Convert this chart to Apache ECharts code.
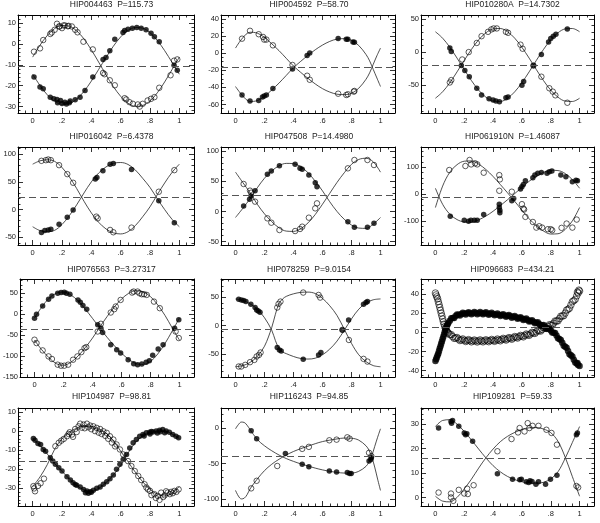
<!DOCTYPE html>
<html>
<head>
<meta charset="utf-8">
<script src="https://cdn.jsdelivr.net/npm/echarts@6/dist/echarts.min.js"></script>
<style>
  html, body { margin: 0; padding: 0; background: #fff; }
  #chart { width: 600px; height: 523px; }
</style>
</head>
<body>
<div id="chart"></div>
<script>
  // panel titles and value axes
  const titles = ['HIP004463  P=115.73', 'HIP004592  P=58.70', 'HIP010280A  P=14.7302',
    'HIP016042  P=6.4378', 'HIP047508  P=14.4980', 'HIP061910N  P=1.46087',
    'HIP076563  P=3.27317', 'HIP078259  P=9.0154', 'HIP096683  P=434.21',
    'HIP104987  P=98.81', 'HIP116243  P=94.85', 'HIP109281  P=59.33'];
  const yMin = [-33.1, -70, -92, -64, -55.5, -190, -150, -90, -46.6, -39.2, -110, -3.5];
  const yMax = [13.9, 44.7, 56, 113, 106.6, 176, 84, 82, 55.6, 12.1, 28.4, 36.6];
  const yStep = [10, 20, 50, 50, 50, 100, 50, 50, 20, 10, 50, 10];
  const yMinorDiv = [5, 4, 5, 5, 5, 5, 5, 5, 4, 5, 5, 5];
  const gamma = [-10.5, -16, -19.5, 23, 26, -10, -35, -6, 5, -16, -40, 16.2];
  const xTickLabels = [0, 0.2, 0.4, 0.6, 0.8, 1];

  // HIP004463
  const p1Filled = [[0.009,-15.8],[0.05,-20.6],[0.072,-21.5],[0.12,-25.5],[0.144,-26.3],[0.166,-26.6],[0.17,-28.2],[0.19,-27.1],[0.2,-28.5],[0.22,-27.9],[0.23,-28.8],[0.25,-28.2],[0.256,-27.4],[0.29,-26.8],[0.323,-25.5],[0.357,-22.3],[0.41,-15.8],[0.48,-7.4],[0.5,-6.5],[0.526,-3.2],[0.56,2.3],[0.616,5.5],[0.627,6.5],[0.65,7.1],[0.68,7.6],[0.71,7.9],[0.74,7.6],[0.773,6.8],[0.807,5.2],[0.83,3.5],[0.863,1.1],[0.964,-10.2],[0.986,-12.6]];
  const p1Open = [[0.009,-3.7],[0.05,-2.1],[0.072,1.9],[0.12,4.8],[0.13,5.5],[0.15,6.8],[0.166,9.7],[0.18,8.4],[0.184,8.4],[0.2,7.6],[0.21,8.9],[0.22,8.9],[0.24,8.5],[0.245,8.7],[0.267,8.4],[0.29,6.8],[0.306,5.6],[0.346,1.1],[0.41,-2.6],[0.48,-13.9],[0.49,-14.5],[0.526,-17.4],[0.56,-19.8],[0.627,-26],[0.638,-26.6],[0.66,-27.9],[0.683,-28.7],[0.717,-29],[0.73,-30],[0.75,-28.7],[0.784,-27.1],[0.807,-26.3],[0.83,-25.5],[0.863,-21],[0.94,-15],[0.964,-8],[0.986,-7.4]];
  const p1CurveA = [[0,-14.5],[0.05,-19.9],[0.1,-24.4],[0.15,-27.5],[0.2,-28.9],[0.25,-28.6],[0.3,-26.4],[0.35,-22.7],[0.4,-17.8],[0.45,-12.2],[0.5,-6.5],[0.55,-1.1],[0.6,3.4],[0.65,6.5],[0.7,7.9],[0.75,7.6],[0.8,5.4],[0.85,1.7],[0.9,-3.2],[0.95,-8.8],[1,-14.5]];
  const p1CurveB = [[0,-6.3],[0.05,-0.6],[0.1,4.1],[0.15,7.4],[0.2,8.9],[0.25,8.5],[0.3,6.3],[0.35,2.4],[0.4,-2.8],[0.45,-8.7],[0.5,-14.8],[0.55,-20.4],[0.6,-25.1],[0.65,-28.4],[0.7,-29.9],[0.75,-29.5],[0.8,-27.3],[0.85,-23.4],[0.9,-18.2],[0.95,-12.3],[1,-6.3]];

  // HIP004592
  const p2Filled = [[0.045,-48.9],[0.1,-56],[0.16,-55.3],[0.186,-51.3],[0.198,-50.1],[0.213,-48.9],[0.258,-41.4],[0.393,-18.5],[0.494,-2.7],[0.512,0.1],[0.708,17.1],[0.764,16.3],[0.775,16.3],[0.81,13.1],[0.82,12.7]];
  const p2Open = [[0.045,17],[0.1,26.2],[0.16,22.2],[0.19,19],[0.198,15.9],[0.213,15.9],[0.258,9.2],[0.393,-13.8],[0.494,-26.4],[0.512,-31.1],[0.708,-47.4],[0.764,-48.9],[0.775,-48.1],[0.816,-45],[0.82,-44.2]];
  const p2CurveA = [[0,-39],[0.05,-50],[0.1,-56.5],[0.15,-55.5],[0.2,-50.5],[0.25,-43],[0.3,-35],[0.35,-26],[0.4,-17],[0.45,-9.5],[0.5,-2.5],[0.55,4],[0.6,9.5],[0.65,13.8],[0.7,16.5],[0.75,17],[0.8,15],[0.85,9],[0.9,-1.5],[0.925,-9],[0.95,-19],[0.975,-29],[1,-39]];
  const p2CurveB = [[0,6],[0.05,18],[0.1,24.5],[0.15,23.5],[0.2,18.5],[0.25,11],[0.3,3],[0.35,-6],[0.4,-15],[0.45,-22.5],[0.5,-29.5],[0.55,-36],[0.6,-41.5],[0.65,-45.5],[0.7,-48],[0.75,-48.5],[0.8,-47],[0.85,-41],[0.9,-30.5],[0.925,-23],[0.95,-13],[0.975,-3],[1,6]];

  // HIP010280A
  const p3Filled = [[0.1,6.1],[0.11,1],[0.18,-20.4],[0.204,-28],[0.235,-37.2],[0.287,-54.6],[0.32,-64.8],[0.372,-70.4],[0.4,-72.4],[0.42,-74],[0.444,-75],[0.489,-68.9],[0.504,-67.9],[0.6,-50],[0.612,-44.4],[0.68,-20.4],[0.735,-3.6],[0.785,15.3],[0.8,20.4],[0.818,24],[0.836,27],[0.915,34.7]];
  const p3Open = [[0.1,-45.9],[0.11,-42.3],[0.186,-11.2],[0.231,0],[0.287,13.8],[0.32,24],[0.365,30.6],[0.388,34.2],[0.404,35.7],[0.426,35.7],[0.489,30.6],[0.504,29.1],[0.59,11.2],[0.605,5.1],[0.68,-20.4],[0.735,-37.2],[0.79,-54.6],[0.814,-59.7],[0.832,-65.3],[0.915,-76.5]];
  const p3CurveA = [[0,30.7],[0.05,21],[0.1,7.3],[0.15,-9.1],[0.2,-26.4],[0.25,-43.1],[0.3,-57.5],[0.35,-68.1],[0.4,-74],[0.45,-74.6],[0.5,-69.7],[0.55,-60],[0.6,-46.2],[0.65,-29.9],[0.7,-12.6],[0.75,4.1],[0.8,18.5],[0.85,29.1],[0.9,35],[0.95,35.6],[1,30.7]];
  const p3CurveB = [[0,-69.7],[0.05,-60],[0.1,-46.3],[0.15,-29.9],[0.2,-12.6],[0.25,4.1],[0.3,18.5],[0.35,29.1],[0.4,35],[0.45,35.6],[0.5,30.7],[0.55,21],[0.6,7.2],[0.65,-9.1],[0.7,-26.4],[0.75,-43.1],[0.8,-57.5],[0.85,-68.1],[0.9,-74],[0.95,-74.6],[1,-69.7]];

  // HIP016042
  const p4Filled = [[0.06,-41.6],[0.083,-38],[0.106,-36.8],[0.124,-35.6],[0.18,-26.6],[0.236,-14],[0.276,-0.8],[0.427,55],[0.438,58],[0.479,70],[0.528,82],[0.55,83.2],[0.674,72.4],[0.86,16],[0.966,-23.6]];
  const p4Open = [[0.06,88],[0.09,89.2],[0.106,90.4],[0.124,89.2],[0.18,80.2],[0.236,64],[0.276,48.4],[0.434,-12.8],[0.443,-15.8],[0.528,-36.8],[0.55,-41],[0.674,-32.6],[0.86,32.2],[0.966,71.2]];
  const p4CurveA = [[0,-31],[0.05,-38],[0.1,-40],[0.15,-37.5],[0.2,-27],[0.25,-11],[0.3,8.5],[0.35,30],[0.4,50],[0.45,66],[0.5,77],[0.55,83.5],[0.6,85],[0.65,81.5],[0.7,71.5],[0.75,56.5],[0.8,40],[0.85,19.5],[0.9,0],[0.95,-17.5],[1,-31]];
  const p4CurveB = [[0,82],[0.05,88],[0.1,90],[0.15,87],[0.2,76],[0.25,59],[0.3,38],[0.35,15],[0.4,-6],[0.45,-23],[0.5,-35],[0.55,-42],[0.6,-44],[0.65,-40],[0.7,-29],[0.75,-13],[0.8,5],[0.85,27],[0.9,48],[0.95,67],[1,82]];

  // HIP047508
  const p5Filled = [[0.056,9],[0.097,20],[0.108,25.5],[0.135,34.4],[0.22,61.4],[0.247,66.9],[0.303,75.7],[0.411,77.9],[0.445,71.3],[0.46,69.7],[0.506,60.3],[0.55,47.6],[0.562,41],[0.775,-16.9],[0.82,-26.3],[0.91,-26.3],[0.955,-19.7]];
  const p5Open = [[0.056,45.4],[0.1,34.4],[0.108,31],[0.135,16.2],[0.22,-11.4],[0.247,-18.6],[0.303,-30.7],[0.411,-32.4],[0.445,-29],[0.46,-25.2],[0.506,-10.3],[0.55,5.1],[0.562,13.4],[0.775,71.3],[0.82,85.1],[0.91,85.1],[0.955,76.8]];
  const p5CurveA = [[0,-10],[0.05,5],[0.1,21],[0.15,39],[0.2,55],[0.25,67],[0.3,75.5],[0.35,79.5],[0.4,79],[0.45,74],[0.5,64],[0.55,50],[0.6,34],[0.65,16],[0.7,0],[0.75,-13],[0.8,-22.5],[0.85,-27.5],[0.9,-28],[0.95,-21],[1,-10]];
  const p5CurveB = [[0,65],[0.05,48],[0.1,31],[0.15,12],[0.2,-4],[0.25,-17],[0.3,-27],[0.35,-32.5],[0.4,-33],[0.45,-28.5],[0.5,-19],[0.55,-5],[0.6,12],[0.65,30],[0.7,48],[0.75,64],[0.8,78],[0.85,86],[0.9,88],[0.95,82],[1,65]];

  // HIP061910N
  const p6Filled = [[0.103,-82.5],[0.2,-97.5],[0.23,-101],[0.246,-97.5],[0.27,-97.5],[0.29,-97.5],[0.335,-76],[0.443,-37.5],[0.447,-60],[0.447,-70],[0.443,-50],[0.53,-25],[0.543,-16],[0.59,19],[0.6,27.5],[0.61,36],[0.624,50],[0.676,61],[0.69,71],[0.71,77.5],[0.735,81],[0.774,77.5],[0.79,84],[0.808,86],[0.87,71],[0.905,65],[0.95,46],[0.975,52],[0.985,50]];
  const p6Open = [[0.096,90],[0.208,105],[0.237,127.5],[0.248,111],[0.275,115],[0.29,111],[0.335,80],[0.443,71],[0.447,55],[0.443,12.5],[0.53,9],[0.6,-37.5],[0.61,-54],[0.615,-57.5],[0.624,-85],[0.676,-104],[0.7,-125],[0.72,-120],[0.74,-125],[0.78,-131],[0.8,-131],[0.81,-135],[0.875,-126],[0.91,-110],[0.95,-125],[0.98,-95]];
  const p6CurveA = [[0,22],[0.05,-38],[0.1,-75],[0.15,-95],[0.2,-104],[0.25,-105],[0.3,-96],[0.35,-82],[0.4,-64],[0.45,-43],[0.5,-21],[0.55,2],[0.6,25],[0.65,48],[0.7,66],[0.75,81],[0.8,89],[0.85,88],[0.9,77],[0.95,54],[1,22]];
  const p6CurveB = [[0,-50],[0.05,30],[0.1,82],[0.15,110],[0.2,123],[0.25,124],[0.3,112],[0.35,92],[0.4,66],[0.45,36],[0.5,5],[0.55,-27],[0.6,-60],[0.65,-92],[0.7,-118],[0.75,-138],[0.8,-149],[0.85,-148],[0.9,-132],[0.95,-100],[1,-50]];

  // HIP076563
  const p7Filled = [[0,-9.5],[0.014,0],[0.056,19.8],[0.097,35.7],[0.12,43.7],[0.16,50],[0.183,51.6],[0.205,52.4],[0.22,50],[0.244,47.6],[0.3,34],[0.316,28.6],[0.334,20.6],[0.36,11.9],[0.436,-25.4],[0.458,-33.3],[0.47,-43.7],[0.526,-73],[0.567,-85],[0.594,-92.9],[0.646,-108.7],[0.684,-118.3],[0.711,-120.6],[0.74,-119],[0.77,-115],[0.792,-111],[0.815,-98],[0.853,-83],[0.887,-73],[0.966,-33.3],[0.995,-13.5]];
  const p7Open = [[0,-61],[0.014,-69],[0.056,-86.5],[0.097,-100.8],[0.12,-107],[0.16,-120.6],[0.183,-123],[0.205,-123],[0.232,-120.6],[0.266,-108.7],[0.296,-100.8],[0.323,-90.5],[0.345,-81],[0.357,-78.6],[0.436,-41.3],[0.458,-23],[0.526,4],[0.55,11.9],[0.56,18.3],[0.594,34],[0.673,51.6],[0.684,54],[0.711,54],[0.724,50],[0.74,47.6],[0.756,47.6],[0.774,46],[0.824,30],[0.864,14.3],[0.973,-41.3],[0.995,-57]];
  const p7CurveA = [[0,-9],[0.05,17],[0.1,38],[0.15,50],[0.2,53],[0.25,46],[0.3,32],[0.35,12],[0.4,-10],[0.45,-33],[0.5,-55],[0.55,-75],[0.6,-93],[0.65,-108],[0.7,-118],[0.75,-120],[0.8,-113],[0.85,-95],[0.9,-70],[0.95,-40],[1,-9]];
  const p7CurveB = [[0,-62],[0.05,-85],[0.1,-104],[0.15,-118],[0.2,-122],[0.25,-115],[0.3,-100],[0.35,-80],[0.4,-57],[0.45,-31],[0.5,-6],[0.55,17],[0.6,36],[0.65,50],[0.7,56],[0.75,53],[0.8,42],[0.85,22],[0.9,-3],[0.95,-33],[1,-62]];

  // HIP078259
  const p8Filled = [[0.022,46.5],[0.04,45.3],[0.056,44.2],[0.072,42.4],[0.106,37.7],[0.135,31.9],[0.146,27.8],[0.157,26],[0.169,23.7],[0.288,-38.3],[0.303,-42.4],[0.315,-44.2],[0.467,-58.8],[0.573,-51.2],[0.589,-47.1],[0.737,-7.3],[0.78,10.2],[0.883,37.7],[0.9,40.6],[0.91,42.4]];
  const p8Open = [[0.022,-71.6],[0.04,-71.6],[0.067,-68.7],[0.1,-64],[0.13,-60],[0.146,-54],[0.162,-51.2],[0.173,-47],[0.288,31.9],[0.297,38.3],[0.31,42.4],[0.467,58.2],[0.573,54],[0.584,49.4],[0.737,-7.3],[0.782,-25],[0.883,-58.2],[0.91,-62.9]];
  const p8CurveA = [[0,47],[0.05,44.5],[0.1,38.5],[0.15,29],[0.2,14],[0.25,-8],[0.275,-26],[0.3,-40],[0.325,-46],[0.35,-49],[0.4,-54],[0.45,-57.5],[0.5,-58.5],[0.55,-57],[0.6,-51],[0.65,-41],[0.7,-27],[0.75,-8],[0.8,12],[0.85,29],[0.9,40],[0.95,45.5],[1,47]];
  const p8CurveB = [[0,-72],[0.05,-70],[0.1,-64.5],[0.15,-54],[0.2,-36],[0.25,-3],[0.275,20],[0.3,39],[0.325,47],[0.35,51.5],[0.4,56],[0.45,58.5],[0.5,59],[0.55,56.5],[0.6,48],[0.65,35],[0.7,18],[0.75,-6],[0.8,-31],[0.85,-51],[0.9,-63],[0.95,-70],[1,-72]];

  // HIP096683 (dense bands, no visible fit): band centre and band edge readings
  const p9Filled = [[0,-30],[0.01,-26],[0.02,-22],[0.03,-17],[0.04,-12],[0.05,-7],[0.06,-2],[0.07,3],[0.08,7],[0.09,10],[0.1,12],[0.12,15],[0.14,17],[0.16,18.2],[0.18,19],[0.2,19.5],[0.22,19.8],[0.24,20],[0.26,20],[0.28,20.1],[0.3,20],[0.32,20],[0.34,19.8],[0.36,19.6],[0.38,19.3],[0.4,19],[0.42,18.7],[0.44,18.4],[0.46,18],[0.48,17.6],[0.5,17.2],[0.52,16.7],[0.54,16.2],[0.56,15.6],[0.58,15],[0.6,14.3],[0.62,13.6],[0.64,12.8],[0.66,11.9],[0.68,11],[0.7,10],[0.72,8.8],[0.74,7.4],[0.76,5.8],[0.78,4],[0.8,2],[0.82,-0.5],[0.84,-3.3],[0.86,-7],[0.88,-11],[0.9,-15],[0.92,-19.5],[0.94,-24],[0.96,-28.5],[0.98,-32.5],[0.99,-34],[1,-35]];
  const p9FilledEdge = [[0.005,-28],[0.015,-24],[0.025,-19.5],[0.035,-14.5],[0.045,-9.5],[0.055,-4.5],[0.065,0.5],[0.075,5],[0.085,8.5],[0.11,14.6],[0.13,14.9],[0.15,18.7],[0.17,17.5],[0.19,20.4],[0.21,18.5],[0.23,21],[0.25,18.9],[0.27,21.2],[0.29,18.9],[0.31,21.1],[0.33,18.8],[0.35,20.8],[0.37,18.3],[0.39,20.3],[0.41,17.7],[0.43,19.7],[0.45,17.1],[0.47,18.9],[0.49,16.3],[0.51,18.1],[0.53,15.3],[0.55,17],[0.57,14.2],[0.59,15.8],[0.61,12.8],[0.63,14.3],[0.65,11.2],[0.67,12.6],[0.69,9.4],[0.71,10.5],[0.73,7],[0.75,7.7],[0.77,3.8],[0.79,4.1],[0.81,-0.3],[0.83,-0.8],[0.85,-6.2],[0.87,-7.9],[0.89,-14.1],[0.91,-16.2],[0.93,-22.8],[0.95,-25.2],[0.97,-31.5],[0.985,-32]];
  const p9Open = [[0,41],[0.01,37],[0.02,32],[0.03,26],[0.04,20],[0.05,14],[0.06,8.5],[0.07,4],[0.08,1],[0.09,-1],[0.1,-2.5],[0.12,-4.5],[0.14,-6],[0.16,-7],[0.18,-7.8],[0.2,-8.3],[0.22,-8.6],[0.24,-8.8],[0.26,-9],[0.28,-9],[0.3,-9],[0.32,-9],[0.34,-8.9],[0.36,-8.8],[0.38,-8.6],[0.4,-8.4],[0.42,-8.2],[0.44,-8],[0.46,-7.6],[0.48,-7.2],[0.5,-6.8],[0.52,-6.3],[0.54,-5.8],[0.56,-5.2],[0.58,-4.6],[0.6,-4],[0.62,-3.3],[0.64,-2.5],[0.66,-1.6],[0.68,-0.6],[0.7,0.5],[0.72,1.7],[0.74,3],[0.76,4.5],[0.78,6],[0.8,7.6],[0.82,9.5],[0.84,11.8],[0.86,14.3],[0.88,17],[0.9,20],[0.92,24],[0.94,28.5],[0.96,33],[0.98,38],[0.99,41],[1,43]];
  const p9OpenEdge = [[0.005,39],[0.015,35],[0.025,29],[0.035,23],[0.045,17],[0.055,11],[0.065,6],[0.075,2.5],[0.085,0],[0.11,-2.4],[0.13,-6.3],[0.15,-5.4],[0.17,-8.6],[0.19,-6.9],[0.21,-9.6],[0.23,-7.6],[0.25,-10],[0.27,-8],[0.29,-10.1],[0.31,-7.9],[0.33,-10],[0.35,-7.8],[0.37,-9.8],[0.39,-7.4],[0.41,-9.4],[0.43,-7],[0.45,-8.9],[0.47,-6.3],[0.49,-8.1],[0.51,-5.5],[0.53,-7.2],[0.55,-4.4],[0.57,-6],[0.59,-3.2],[0.61,-4.8],[0.63,-1.8],[0.65,-3.2],[0.67,0],[0.69,-1.2],[0.71,2.2],[0.73,1.3],[0.75,4.8],[0.77,4.1],[0.79,7.9],[0.81,7.4],[0.83,11.8],[0.85,11.9],[0.87,16.8],[0.89,17.3],[0.91,23.1],[0.93,25.1],[0.95,32],[0.97,34.4],[0.985,42],[0.995,44]];
  const p9CurveA = [];
  const p9CurveB = [];

  // HIP104987
  const p10Filled = [[0.005,-3.9],[0.016,-4.8],[0.036,-6.5],[0.054,-7],[0.072,-9.6],[0.088,-10.5],[0.12,-14],[0.137,-15.7],[0.155,-17.4],[0.178,-19.2],[0.2,-20.9],[0.234,-23.9],[0.257,-25.6],[0.275,-27],[0.29,-28],[0.3,-28.4],[0.324,-29.2],[0.347,-30.5],[0.36,-32.2],[0.37,-31.3],[0.38,-32.5],[0.392,-31.7],[0.4,-32],[0.414,-31],[0.437,-29.9],[0.46,-29.2],[0.482,-27.8],[0.505,-26.5],[0.527,-24.9],[0.55,-23],[0.572,-20],[0.595,-17.4],[0.617,-14.8],[0.64,-12.2],[0.662,-8.8],[0.685,-6.1],[0.707,-4.4],[0.73,-2.7],[0.752,-1.8],[0.76,-2.5],[0.775,-0.9],[0.797,-0.6],[0.8,-1.5],[0.81,-0.2],[0.82,-0.4],[0.842,0.1],[0.85,-1],[0.865,0.5],[0.87,-0.3],[0.887,0.8],[0.9,-0.8],[0.91,0],[0.932,-0.6],[0.955,-1.8],[0.977,-2.7],[0.995,-3.5]];
  const p10Open = [[0.005,-28.8],[0.01,-30],[0.016,-31.5],[0.036,-28.7],[0.054,-27.3],[0.077,-24.9],[0.155,-7.9],[0.178,-6.1],[0.195,-5],[0.212,-4.1],[0.234,-2.7],[0.245,-1.5],[0.252,-0.6],[0.268,-1.8],[0.275,-3],[0.29,1.1],[0.3,-0.5],[0.313,2.5],[0.324,3.9],[0.335,1.8],[0.347,3.4],[0.355,1.5],[0.37,3.9],[0.38,2],[0.392,2.9],[0.4,1],[0.414,2.5],[0.425,0],[0.437,1.7],[0.45,-0.8],[0.46,1.1],[0.47,-1.5],[0.482,-0.1],[0.495,-2.5],[0.505,-0.9],[0.515,-4],[0.527,-2.7],[0.54,-6],[0.55,-4.4],[0.562,-8],[0.572,-7],[0.595,-9.6],[0.617,-12.2],[0.65,-15.7],[0.673,-18.3],[0.696,-20.9],[0.72,-23.5],[0.74,-25.6],[0.763,-27.8],[0.775,-29.5],[0.786,-30.5],[0.8,-31.3],[0.81,-33.5],[0.83,-33],[0.84,-35],[0.853,-33.9],[0.865,-36],[0.876,-32.2],[0.89,-34.5],[0.9,-33.6],[0.91,-31.5],[0.92,-32.2],[0.935,-33],[0.944,-31.8],[0.955,-32.5],[0.966,-31.3],[0.98,-31.8],[0.995,-30.5]];
  const p10CurveA = [[0,-4],[0.05,-7.5],[0.1,-12],[0.15,-17],[0.2,-21],[0.25,-25],[0.3,-28.5],[0.35,-30.8],[0.4,-31.5],[0.45,-30],[0.5,-27],[0.55,-23],[0.6,-18],[0.65,-11.5],[0.7,-6],[0.75,-2.5],[0.8,-0.8],[0.85,0],[0.9,0],[0.95,-1.5],[1,-4]];
  const p10CurveB = [[0,-29],[0.05,-24],[0.1,-17.5],[0.15,-9.5],[0.2,-4],[0.25,-0.5],[0.3,1.5],[0.35,2.5],[0.4,2.5],[0.45,1.3],[0.5,-1],[0.55,-5],[0.6,-10.5],[0.65,-16],[0.7,-21.5],[0.75,-26.5],[0.8,-30.5],[0.85,-33],[0.9,-34],[0.95,-32.5],[1,-29]];

  // HIP116243
  const p11Filled = [[0.108,-3.7],[0.146,-14.9],[0.344,-35.8],[0.46,-51.2],[0.506,-54.4],[0.647,-60.5],[0.697,-61.9],[0.771,-62.8],[0.787,-64.2],[0.798,-64.2],[0.921,-46.5],[0.933,-44.2],[0.937,-41.9]];
  const p11Open = [[0.108,-85.1],[0.146,-74.4],[0.288,-53.5],[0.46,-29.3],[0.506,-26.5],[0.647,-17.2],[0.697,-16.3],[0.771,-13],[0.787,-14.9],[0.921,-34.9],[0.937,-39.5]];
  const p11CurveA = [[0,-1],[0.02,5],[0.04,8.5],[0.06,8],[0.08,4],[0.1,-2],[0.15,-16],[0.2,-25],[0.25,-32],[0.3,-38],[0.35,-43],[0.4,-47],[0.45,-50.5],[0.5,-53.5],[0.55,-56.5],[0.6,-59],[0.65,-61],[0.7,-62.5],[0.75,-63.5],[0.8,-63.5],[0.85,-61],[0.9,-54],[0.92,-48],[0.94,-39],[0.96,-26],[0.98,-13],[1,-1]];
  const p11CurveB = [[0,-88],[0.02,-96],[0.04,-100],[0.06,-99],[0.08,-94],[0.1,-86],[0.15,-72],[0.2,-60],[0.25,-51],[0.3,-44],[0.35,-38],[0.4,-33],[0.45,-29],[0.5,-25.5],[0.55,-22],[0.6,-19],[0.65,-17],[0.7,-15.3],[0.75,-14],[0.8,-14.3],[0.85,-17],[0.9,-25],[0.92,-31],[0.94,-41],[0.96,-55],[0.98,-72],[1,-88]];

  // HIP109281
  const p12Filled = [[0.022,28.4],[0.108,31.1],[0.112,30.4],[0.119,31.5],[0.162,29.1],[0.2,26.4],[0.209,25.7],[0.218,26.1],[0.258,23],[0.43,9.7],[0.535,7.4],[0.585,7.2],[0.596,7.4],[0.63,6.4],[0.647,6.1],[0.656,6.8],[0.67,6.5],[0.697,5.4],[0.715,6.4],[0.764,5.4],[0.798,7.4],[0.843,9.1],[0.978,25.7],[0.985,26.4]];
  const p12Open = [[0.022,2],[0.108,1.6],[0.108,0],[0.124,-1.4],[0.162,3.1],[0.2,1.6],[0.22,3.6],[0.225,1.4],[0.265,5],[0.43,18.9],[0.528,23.9],[0.573,26.6],[0.584,28.4],[0.618,27],[0.64,30.4],[0.652,28.4],[0.674,29.3],[0.715,29.3],[0.77,27.7],[0.805,26.4],[0.843,21.6],[0.978,4.7],[0.99,4.1]];
  const p12CurveA = [[0,29],[0.05,31.5],[0.1,31.8],[0.15,30],[0.2,27],[0.25,23.5],[0.3,19.8],[0.35,16.2],[0.4,13],[0.45,10.5],[0.5,8.6],[0.55,7.3],[0.6,6.4],[0.65,5.9],[0.7,5.8],[0.75,6.2],[0.8,7.6],[0.85,10.5],[0.9,16],[0.95,22.5],[1,29]];
  const p12CurveB = [[0,0.5],[0.05,-1.5],[0.1,-1.8],[0.15,0],[0.2,3.5],[0.25,7.5],[0.3,12],[0.35,16.2],[0.4,19.8],[0.45,22.8],[0.5,25],[0.55,26.6],[0.6,27.8],[0.65,28.5],[0.7,28.6],[0.75,28],[0.8,26.5],[0.85,23],[0.9,16.5],[0.95,8.5],[1,0.5]];

  const panels = [
    [p1Filled, p1Open, p1CurveA, p1CurveB], [p2Filled, p2Open, p2CurveA, p2CurveB],
    [p3Filled, p3Open, p3CurveA, p3CurveB], [p4Filled, p4Open, p4CurveA, p4CurveB],
    [p5Filled, p5Open, p5CurveA, p5CurveB], [p6Filled, p6Open, p6CurveA, p6CurveB],
    [p7Filled, p7Open, p7CurveA, p7CurveB], [p8Filled, p8Open, p8CurveA, p8CurveB],
    [p9Filled.concat(p9FilledEdge), p9Open.concat(p9OpenEdge), p9CurveA, p9CurveB],
    [p10Filled, p10Open, p10CurveA, p10CurveB],
    [p11Filled, p11Open, p11CurveA, p11CurveB], [p12Filled, p12Open, p12CurveA, p12CurveB]
  ];

  // layout of the 4x3 grid of boxes
  const colLeft = [18, 221, 421], colWidth = [176, 174, 173];
  const rowTop = [15, 147, 279, 408], boxH = 98;
  const titleX = [111.5, 309, 512.5], titleY = [5, 137, 269.5, 396.5];
  const font = "'Liberation Sans Narrow', 'Liberation Sans', Arial, sans-serif";
  const ink = '#000';

  function stepValues(min, max, step) {
    const out = [];
    for (let k = Math.ceil(min / step - 1e-9); k * step <= max + 1e-9; k++) out.push(+(k * step).toFixed(6));
    return out;
  }
  function isMultiple(v, step) { return Math.abs(v / step - Math.round(v / step)) < 1e-6; }

  const xMinor = stepValues(-0.1, 1.1, 0.05).filter(v => !isMultiple(v, 0.2));

  function makeAxis(gi, pos, min, max, ticks, len, labelOpt, showLine) {
    return {
      type: 'value', gridIndex: gi, position: pos, min: min, max: max,
      splitLine: { show: false },
      axisLine: { show: showLine, onZero: false, lineStyle: { color: ink, width: 1 } },
      axisTick: { show: true, inside: true, length: len, customValues: ticks, lineStyle: { color: ink, width: 0.8 } },
      axisLabel: labelOpt || { show: false }
    };
  }

  const chart = echarts.init(document.getElementById('chart'));
  const option = { animation: false, backgroundColor: '#fff', grid: [], xAxis: [], yAxis: [], series: [], graphic: [] };

  panels.forEach(function (p, i) {
    const c = i % 3, r = Math.floor(i / 3);
    option.grid.push({ left: colLeft[c], top: rowTop[r], width: colWidth[c], height: boxH });
    option.graphic.push({
      type: 'text', x: titleX[c], y: titleY[r], silent: true,
      style: { text: titles[i], fill: '#222', font: '8.5px ' + font, align: 'center', verticalAlign: 'middle' }
    });

    const yMajor = stepValues(yMin[i], yMax[i], yStep[i]);
    const yMinor = stepValues(yMin[i], yMax[i], yStep[i] / yMinorDiv[i]).filter(v => !isMultiple(v, yStep[i]));

    const xLabel = {
      show: true, customValues: xTickLabels, margin: 4, color: '#222', fontSize: 7.5, fontFamily: font,
      formatter: function (v) { return (v === 0 || v === 1) ? String(v) : String(Math.round(v * 10) / 10).replace(/^0/, ''); }
    };
    const yLabel = {
      show: true, customValues: yMajor, margin: 2, color: '#222', fontSize: 7.5, fontFamily: font,
      formatter: function (v) { return String(Math.round(v)); }
    };

    option.xAxis.push(makeAxis(i, 'bottom', -0.1, 1.1, xTickLabels, 5, xLabel, true));
    option.xAxis.push(makeAxis(i, 'top', -0.1, 1.1, xTickLabels, 5, null, true));
    option.xAxis.push(makeAxis(i, 'bottom', -0.1, 1.1, xMinor, 2.5, null, false));
    option.xAxis.push(makeAxis(i, 'top', -0.1, 1.1, xMinor, 2.5, null, false));
    option.yAxis.push(makeAxis(i, 'left', yMin[i], yMax[i], yMajor, 5, yLabel, true));
    option.yAxis.push(makeAxis(i, 'right', yMin[i], yMax[i], yMajor, 5, null, true));
    option.yAxis.push(makeAxis(i, 'left', yMin[i], yMax[i], yMinor, 2.5, null, false));
    option.yAxis.push(makeAxis(i, 'right', yMin[i], yMax[i], yMinor, 2.5, null, false));

    const ax = { xAxisIndex: 4 * i, yAxisIndex: 4 * i };
    const dense = (i === 8);
    [p[2], p[3]].forEach(function (curve) {
      if (!curve.length) return;
      option.series.push(Object.assign({
        type: 'line', data: curve, smooth: 0.35, symbol: 'none', silent: true, z: 2,
        lineStyle: { color: '#222', width: 0.8 }
      }, ax));
    });
    option.series.push(Object.assign({
      type: 'scatter', data: p[0], symbol: 'circle', symbolSize: dense ? 6.5 : 5.5, silent: true, z: 3,
      itemStyle: { color: ink },
      markLine: {
        silent: true, symbol: 'none', label: { show: false }, animation: false,
        lineStyle: { color: '#555', width: 1.2, type: [7, 4] },
        data: [{ yAxis: gamma[i] }]
      }
    }, ax));
    option.series.push(Object.assign({
      type: 'scatter', data: p[1], symbol: 'circle', symbolSize: dense ? 6.5 : 5.5, silent: true, z: 4,
      itemStyle: { color: 'rgba(0,0,0,0)', borderColor: ink, borderWidth: 0.8 }
    }, ax));
  });

  chart.setOption(option);
  window.addEventListener('resize', function () { chart.resize(); });
</script>
</body>
</html>
